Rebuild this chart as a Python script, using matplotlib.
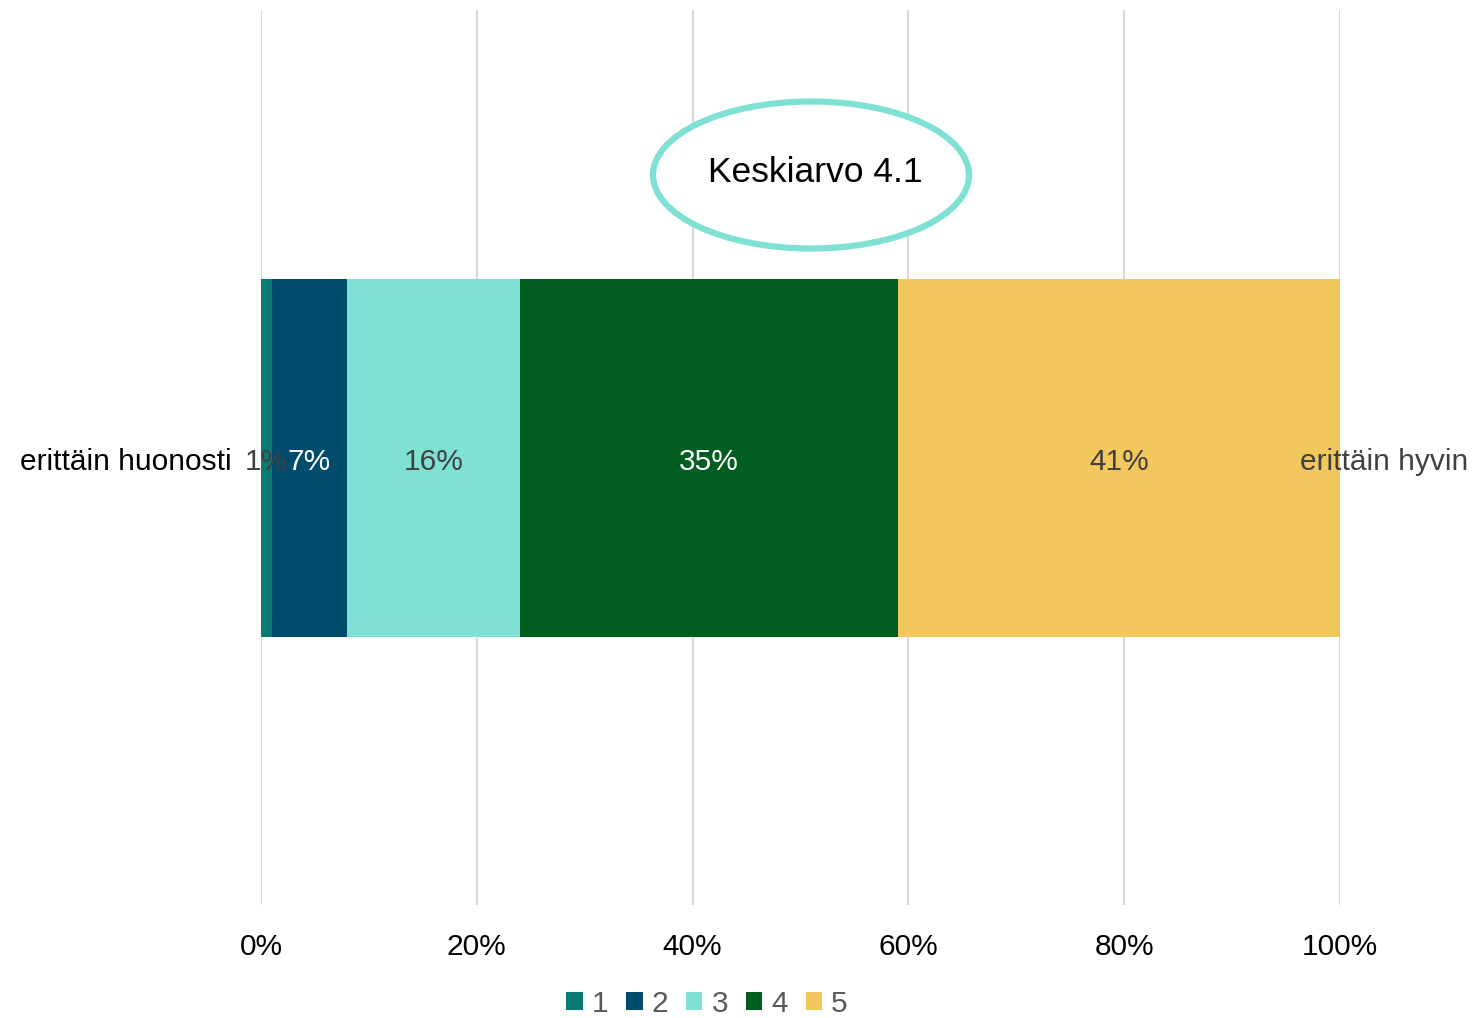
import matplotlib.pyplot as plt
from matplotlib.patches import Ellipse

# data
categories = ["1", "2", "3", "4", "5"]
values = [1, 7, 16, 35, 41]
colors = ["#0A7B73", "#004C6D", "#7FE1D4", "#025D20", "#F1C75E"]
label_colors = ["#404040", "white", "#404040", "white", "#404040"]
ticks = [0, 20, 40, 60, 80, 100]
tick_labels = ["0%", "20%", "40%", "60%", "80%", "100%"]
mean_text = "Keskiarvo 4.1"

plt.rcParams['font.family'] = ['Liberation Sans', 'DejaVu Sans']
fs = 21.5

fig = plt.figure(figsize=(14.78, 10.18), dpi=100)
ax = fig.add_axes([261 / 1478, 1 - 905 / 1018, (1340 - 261) / 1478, 895 / 1018])

left = 0
for cat, v, c, lc in zip(categories, values, colors, label_colors):
    ax.barh(0, v, left=left, height=0.8, color=c, label=cat, zorder=3)
    ax.text(left + v / 2, -0.01, f"{v}%", ha="center", va="center",
            fontsize=fs, color=lc, zorder=4)
    left += v

ax.set_xlim(0, 100)
ax.set_ylim(-1, 1)
ax.set_xticks(ticks)
ax.set_xticklabels(tick_labels, fontsize=fs)
ax.set_yticks([])
ax.tick_params(axis="x", length=0, pad=20)
ax.grid(axis="x", color="#D9D9D9", linewidth=1.5, zorder=0)
for s in ax.spines.values():
    s.set_visible(False)

ax.text(-2.7, -0.01, "erittäin huonosti", ha="right", va="center", fontsize=fs, color="black")
ax.text(96.3, -0.01, "erittäin hyvin", ha="left", va="center", fontsize=fs, color="#404040",
        zorder=5, clip_on=False)

# mean ellipse
ell = Ellipse((811 / 1478, 1 - 175 / 1018), 316 / 1478, 147 / 1018,
              transform=fig.transFigure, facecolor="white", edgecolor="#7FE1D4",
              linewidth=4.5, zorder=10)
fig.patches.append(ell)
fig.text(815 / 1478, 1 - 173 / 1018, mean_text, ha="center", va="center",
         fontsize=25.5, color="black", zorder=11)

leg = fig.legend(loc="center", bbox_to_anchor=(707 / 1478, 1 - 1004 / 1018), ncol=5,
                 frameon=False, fontsize=fs, handlelength=0.55, handleheight=0.55,
                 handletextpad=0.3, columnspacing=0.6)
for t in leg.get_texts():
    t.set_color("#595959")

fig.savefig("out.png", dpi=100)
